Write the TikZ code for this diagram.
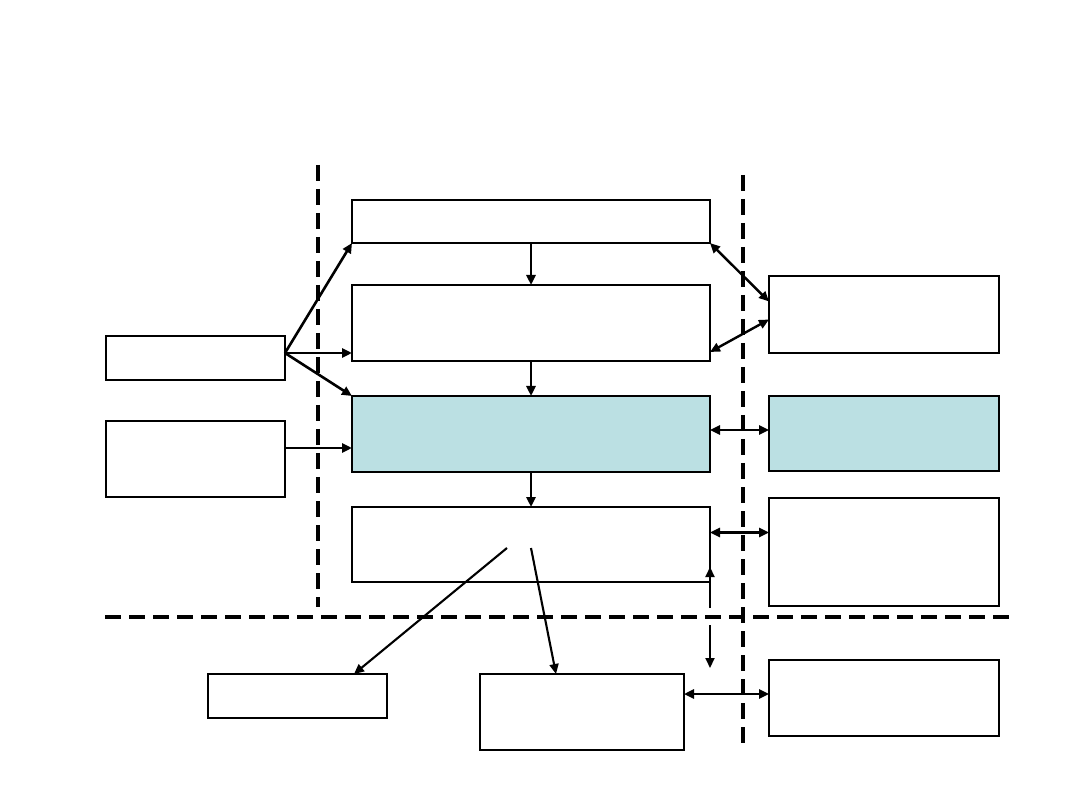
\documentclass[tikz,border=0pt]{standalone}
\usetikzlibrary{arrows.meta}
\definecolor{paleblue}{RGB}{187,224,227}
\tikzset{
  box/.style={draw=black, line width=1.7pt, fill=white, rectangle, anchor=north west, inner sep=0pt, outer sep=0pt},
  bluebox/.style={box, fill=paleblue},
  arr/.style={line width=2.6pt, -{Triangle[length=10pt,width=9pt]}},
  darr/.style={line width=2.4pt, {Triangle[length=10pt,width=9pt]}-{Triangle[length=10pt,width=9pt]}},
  thinarr/.style={line width=2.1pt, -{Triangle[length=10pt,width=9pt]}},
  sep/.style={line width=4.2pt, dash pattern=on 16pt off 8pt}
}
\begin{document}
\begin{tikzpicture}[x=1pt,y=-1pt]
\useasboundingbox (0,0) rectangle (1080,810);
% dashed separators
\draw[sep] (318,165) -- (318,607);
\draw[sep] (743,175) -- (743,746);
\draw[sep] (105,617) -- (1010,617);
% boxes
\node[box, minimum width=358pt, minimum height=43pt] (A) at (352,200) {};
\node[box, minimum width=358pt, minimum height=76pt] (B) at (352,285) {};
\node[bluebox, minimum width=358pt, minimum height=76pt] (C) at (352,396) {};
\node[box, minimum width=358pt, minimum height=75pt] (D) at (352,507) {};
\node[box, minimum width=179pt, minimum height=44pt] (L1) at (106,336) {};
\node[box, minimum width=179pt, minimum height=76pt] (L2) at (106,421) {};
\node[box, minimum width=230pt, minimum height=77pt] (R1) at (769,276) {};
\node[bluebox, minimum width=230pt, minimum height=75pt] (R2) at (769,396) {};
\node[box, minimum width=230pt, minimum height=108pt] (R3) at (769,498) {};
\node[box, minimum width=230pt, minimum height=76pt] (R4) at (769,660) {};
\node[box, minimum width=179pt, minimum height=44pt] (B1) at (208,674) {};
\node[box, minimum width=204pt, minimum height=76pt] (B2) at (480,674) {};
% coordinates
\coordinate (l1o) at ([yshift=5pt]L1.east);
\coordinate (l2o) at ([yshift=11pt]L2.east);
\coordinate (d1) at (507,548);
\coordinate (d2) at (531,548);
\coordinate (v1) at (710,608);
\coordinate (v2) at (710,567);
\coordinate (v3) at (710,625);
\coordinate (v4) at (710,668);
% left inputs
\draw[arr] (l1o) -- (A.south west);
\draw[arr] (l1o) -- (l1o -| B.west);
\draw[arr] (l1o) -- (C.north west);
\draw[arr] (l2o) -- (l2o -| C.west);
% vertical chain
\draw[arr] (A.south) -- (B.north);
\draw[arr] (B.south) -- (C.north);
\draw[arr] (C.south) -- (D.north);
% right links
\draw[darr] (A.south east) -- ([yshift=13pt]R1.west);
\draw[darr] ([yshift=9pt]B.south east) -- ([yshift=-5pt]R1.west);
\draw[darr] ([yshift=4pt]C.east) -- ([yshift=4pt]C.east -| R2.west);
\draw[darr] ([yshift=12pt]D.east) -- ([yshift=12pt]D.east -| R3.west);
\draw[darr] ([yshift=18pt]B2.east) -- ([yshift=18pt]B2.east -| R4.west);
% outputs from D
\draw[thinarr] (d1) -- ([xshift=-33pt]B1.north east);
\draw[thinarr] (d2) -- ([xshift=-26pt]B2.north);
\draw[thinarr] (v1) -- (v2);
\draw[thinarr] (v3) -- (v4);
\end{tikzpicture}
\end{document}
